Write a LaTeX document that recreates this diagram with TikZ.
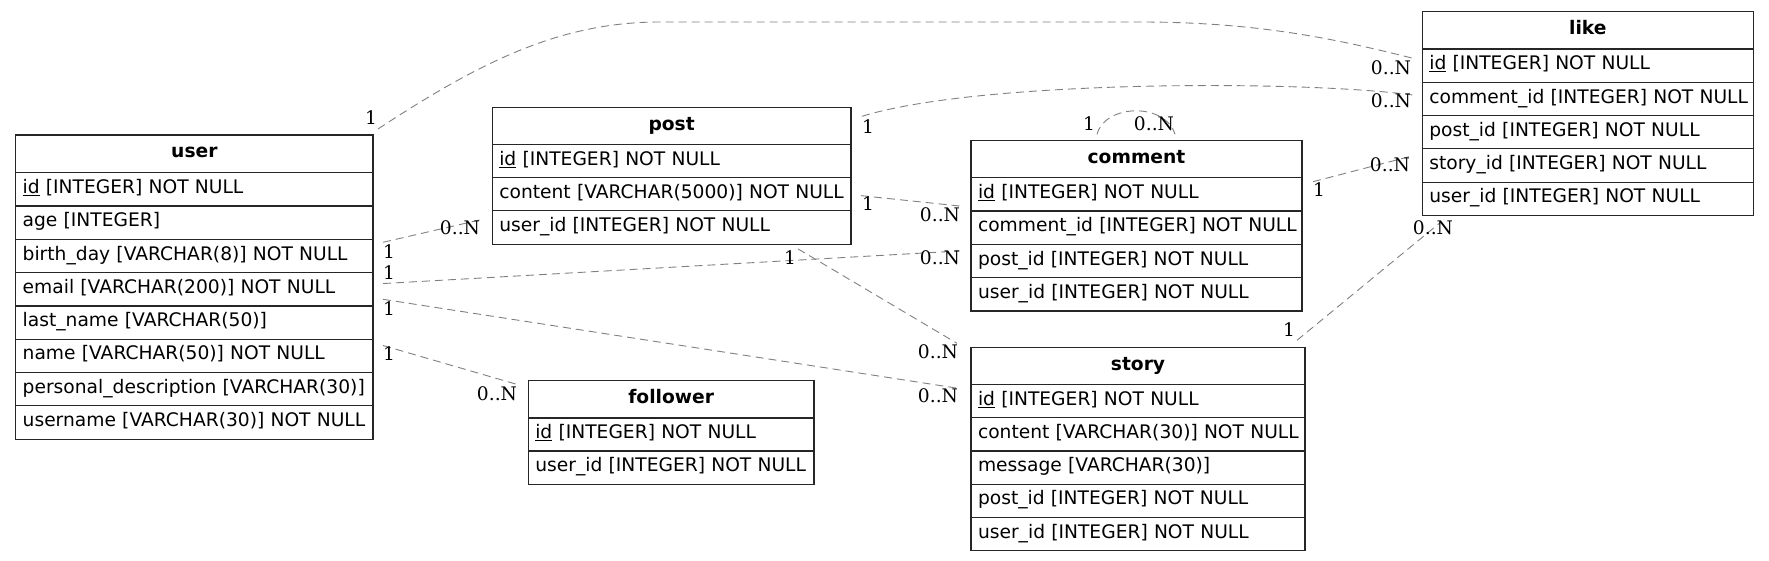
\documentclass[tikz,border=0pt]{standalone}
\usepackage{fontspec}
\setmainfont{DejaVu Sans}
\newfontfamily\cardfont{DejaVu Serif}
\usepackage{tikz}
\newcommand\erfont{\fontsize{18.67}{22}\selectfont}

\tikzset{
  tbltitle/.style={draw=black!85, line width=1.2pt, outer sep=0pt, inner sep=0pt,
    anchor=north west, minimum width=#1, minimum height=37.3pt,
    font=\erfont\bfseries, text height=13pt, text depth=4.8pt},
  tblfield/.style={draw=black!85, line width=1.2pt, outer sep=0pt, inner xsep=7pt, inner ysep=0pt,
    anchor=north west, text width=#1, align=left, minimum height=33.3pt,
    font=\erfont, text height=13pt, text depth=4.8pt,
    execute at begin node=\hbox\bgroup, execute at end node=\egroup},
  rel/.style={draw=black!50, line width=0.9pt, dash pattern=on 8pt off 5pt},
  card/.style={font=\erfont\cardfont, inner sep=0pt}
}

\begin{document}
\begin{tikzpicture}[x=1pt,y=-1pt]
    \useasboundingbox (0,0) rectangle (1769,561);

    % Table user
    \node[tbltitle=357.3pt] (user-t) at (15.7,135) {user};
    \node[tblfield=343.3pt] (user-id) at (15.7,172.7) {\underline{id} [INTEGER] NOT NULL};
    \node[tblfield=343.3pt] (user-age) at (15.7,206) {age [INTEGER]};
    \node[tblfield=343.3pt] (user-birth) at (15.7,239.3) {birth\_day [VARCHAR(8)] NOT NULL};
    \node[tblfield=343.3pt] (user-email) at (15.7,272.6) {email [VARCHAR(200)] NOT NULL};
    \node[tblfield=343.3pt] (user-last) at (15.7,305.9) {last\_name [VARCHAR(50)]};
    \node[tblfield=343.3pt] (user-name) at (15.7,339.2) {name [VARCHAR(50)] NOT NULL};
    \node[tblfield=343.3pt] (user-desc) at (15.7,372.5) {personal\_description [VARCHAR(30)]};
    \node[tblfield=343.3pt] (user-uname) at (15.7,405.8) {username [VARCHAR(30)] NOT NULL};

    % Table post
    \node[tbltitle=358.7pt] (post-t) at (492.3,107.3) {post};
    \node[tblfield=344.7pt] (post-id) at (492.3,144.3) {\underline{id} [INTEGER] NOT NULL};
    \node[tblfield=344.7pt] (post-content) at (492.3,177.6) {content [VARCHAR(5000)] NOT NULL};
    \node[tblfield=344.7pt] (post-user) at (492.3,210.9) {user\_id [INTEGER] NOT NULL};

    % Table comment
    \node[tbltitle=331pt] (comment-t) at (971,140.3) {comment};
    \node[tblfield=317pt] (comment-id) at (971,177.7) {\underline{id} [INTEGER] NOT NULL};
    \node[tblfield=317pt] (comment-comment) at (971,211) {comment\_id [INTEGER] NOT NULL};
    \node[tblfield=317pt] (comment-post) at (971,244.3) {post\_id [INTEGER] NOT NULL};
    \node[tblfield=317pt] (comment-user) at (971,277.6) {user\_id [INTEGER] NOT NULL};

    % Table like
    \node[tbltitle=331pt] (like-t) at (1422.3,11.7) {like};
    \node[tblfield=317pt] (like-id) at (1422.3,49) {\underline{id} [INTEGER] NOT NULL};
    \node[tblfield=317pt] (like-comment) at (1422.3,82.3) {comment\_id [INTEGER] NOT NULL};
    \node[tblfield=317pt] (like-post) at (1422.3,115.6) {post\_id [INTEGER] NOT NULL};
    \node[tblfield=317pt] (like-story) at (1422.3,148.9) {story\_id [INTEGER] NOT NULL};
    \node[tblfield=317pt] (like-user) at (1422.3,182.2) {user\_id [INTEGER] NOT NULL};

    % Table story
    \node[tbltitle=334pt] (story-t) at (971,347.3) {story};
    \node[tblfield=320pt] (story-id) at (971,384.3) {\underline{id} [INTEGER] NOT NULL};
    \node[tblfield=320pt] (story-content) at (971,417.6) {content [VARCHAR(30)] NOT NULL};
    \node[tblfield=320pt] (story-msg) at (971,450.9) {message [VARCHAR(30)]};
    \node[tblfield=320pt] (story-post) at (971,484.2) {post\_id [INTEGER] NOT NULL};
    \node[tblfield=320pt] (story-user) at (971,517.5) {user\_id [INTEGER] NOT NULL};

    % Table follower
    \node[tbltitle=285.7pt] (follower-t) at (528.3,380.7) {follower};
    \node[tblfield=271.7pt] (follower-id) at (528.3,417.7) {\underline{id} [INTEGER] NOT NULL};
    \node[tblfield=271.7pt] (follower-user) at (528.3,451) {user\_id [INTEGER] NOT NULL};

    % Relations to like
    \draw[rel] ([shift={(5,-6)}]user-t.north east) .. controls (480,62) and (560,22) .. (660,22)
        -- (1140,22) .. controls (1260,22) and (1340,40) .. ([shift={(-10,-7.5)}]like-id.west);
    \draw[rel] ([shift={(11,9)}]post-t.north east) .. controls (980,80) and (1300,80) .. ([shift={(-10,-4)}]like-comment.west);
    \draw[rel] ([shift={(11,4)}]comment-id.north east) -- ([shift={(-10,7)}]like-story.north west);
    \draw[rel] ([shift={(-8,-7)}]story-t.north east) -- ([shift={(18,7)}]like-user.south west);

    % Self relation of comment
    \draw[rel] ([shift={(-39.5,-6)}]comment-t.north) .. controls (1105,104) and (1165,102) .. ([shift={(38.5,-6)}]comment-t.north);

    % Relations from user and post
    \draw[rel] ([shift={(10,3)}]user-birth.north east) -- ([shift={(-12,-7.7)}]post-user.west);
    \draw[rel] ([shift={(10,-5.7)}]user-email.east) -- ([shift={(-11,-10)}]comment-post.west);
    \draw[rel] ([shift={(10,-6.6)}]user-last.north east) -- ([shift={(-13,4)}]story-id.north west);
    \draw[rel] ([shift={(10,6.3)}]user-name.north east) -- ([shift={(-11.6,3.6)}]follower-t.north west);
    \draw[rel] ([shift={(10,1.4)}]post-content.east) -- ([shift={(-11,11.7)}]comment-id.west);
    \draw[rel] ([shift={(-53,4.7)}]post-user.south east) -- ([shift={(-14,-4)}]story-t.north west);

    % Cardinalities
    \node[card] (c-ul1) at (371,118) {1};
    \node[card] (c-ul2) at (1391,68) {0..N};
    \node[card] (c-pl1) at (868,127) {1};
    \node[card] (c-pl2) at (1391,101) {0..N};
    \node[card] (c-cc1) at (1089,123.3) {1};
    \node[card] (c-cc2) at (1154,123.3) {0..N};
    \node[card] (c-cl1) at (1319,190) {1};
    \node[card] (c-cl2) at (1390,165) {0..N};
    \node[card] (c-sl1) at (1289,330) {1};
    \node[card] (c-sl2) at (1433,228) {0..N};
    \node[card] (c-up1) at (389,251.7) {1};
    \node[card] (c-up2) at (460,228) {0..N};
    \node[card] (c-uc1) at (389,272.7) {1};
    \node[card] (c-uc2) at (940,257.3) {0..N};
    \node[card] (c-us1) at (389,308.3) {1};
    \node[card] (c-us2) at (938,396) {0..N};
    \node[card] (c-uf1) at (389,354) {1};
    \node[card] (c-uf2) at (497,394) {0..N};
    \node[card] (c-pc1) at (868,203.3) {1};
    \node[card] (c-pc2) at (940,215) {0..N};
    \node[card] (c-ps1) at (790,257.7) {1};
    \node[card] (c-ps2) at (938,351.7) {0..N};
\end{tikzpicture}
\end{document}
